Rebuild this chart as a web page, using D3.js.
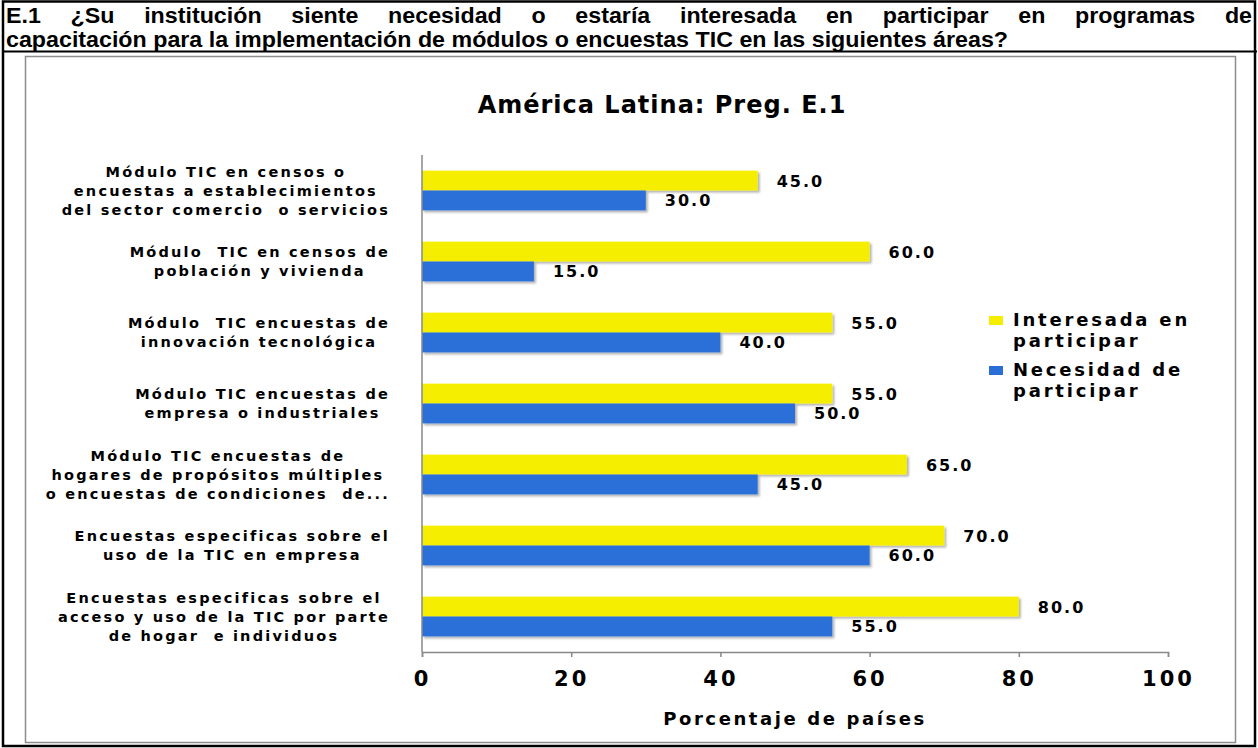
<!DOCTYPE html>
<html>
<head>
<meta charset="utf-8">
<script src="https://cdn.jsdelivr.net/npm/d3@7"></script>
<style>
  body { margin: 0; background: #fff; }
  svg { display: block; }
</style>
</head>
<body>
<svg id="chart" width="1258" height="748"></svg>
<script>
// data (top to bottom)
var categories = [
  ["Módulo TIC en censos o", "encuestas a establecimientos", "del sector comercio  o servicios"],
  ["Módulo  TIC en censos de", "población y vivienda"],
  ["Módulo  TIC encuestas de", "innovación tecnológica"],
  ["Módulo TIC encuestas de", "empresa o industriales"],
  ["Módulo TIC encuestas de", "hogares de propósitos múltiples", "o encuestas de condiciones  de..."],
  ["Encuestas especificas sobre el", "uso de la TIC en empresa"],
  ["Encuestas especificas sobre el", "acceso y uso de la TIC por parte", "de hogar  e individuos"]
];
var interesada = [45, 60, 55, 55, 65, 70, 80];
var necesidad = [30, 15, 40, 50, 45, 60, 55];
var seriesNames = [["Interesada en", "participar"], ["Necesidad de", "participar"]];
var seriesColors = ["#f5ee00", "#2a6fd8"];
var xTicks = [0, 20, 40, 60, 80, 100];

var headerLine1 = "E.1  ¿Su institución siente necesidad o estaría interesada en participar en programas de";
var headerLine2 = "capacitación para la implementación de módulos o encuestas TIC en las siguientes áreas?";

var svg = d3.select("#chart");

// outer frame + header
svg.append("rect").attr("x", 3).attr("y", 1.5).attr("width", 1252).attr("height", 744.5)
   .attr("fill", "none").attr("stroke", "#000").attr("stroke-width", 2.5);
svg.append("line").attr("x1", 3).attr("x2", 1257).attr("y1", 51.5).attr("y2", 51.5)
   .attr("stroke", "#000").attr("stroke-width", 2);

var headFont = "'Liberation Sans Narrow', 'Arial Narrow', sans-serif";
var headSize = "22.5px";

// second line: stretched a bit so it ends where the original does
var line2 = svg.append("text").attr("x", 6).attr("y", 46.5)
   .style("font-family", headFont).style("font-weight", "bold").style("font-size", headSize)
   .text(headerLine2);
var natural = line2.node().getComputedTextLength();
var k = 1002 / natural;
line2.attr("textLength", 1002).attr("lengthAdjust", "spacingAndGlyphs");

// first line justified across the width
var words = headerLine1.split(/\s+/);
var wnodes = words.map(function(w) {
  return svg.append("text").attr("y", 23).style("font-family", headFont)
    .style("font-weight", "bold").style("font-size", headSize).text(w);
});
var widths = wnodes.map(function(n) { return n.node().getComputedTextLength() * k; });
wnodes.forEach(function(n, i) {
  n.attr("textLength", widths[i]).attr("lengthAdjust", "spacingAndGlyphs");
});
var gap = (1252 - 6 - d3.sum(widths)) / (words.length - 1);
var cx = 6;
wnodes.forEach(function(n, i) { n.attr("x", cx); cx += widths[i] + gap; });

// chart frame
svg.append("rect").attr("x", 25.5).attr("y", 56.5).attr("width", 1210).attr("height", 686)
   .attr("fill", "#fff").attr("stroke", "#8c8c8c").attr("stroke-width", 1.5);

var wide = "'DejaVu Sans', Verdana, sans-serif";

svg.append("text").attr("x", 662).attr("y", 113).attr("text-anchor", "middle")
   .style("font-family", wide).style("font-weight", "bold").style("font-size", "24px")
   .style("letter-spacing", "1px")
   .text("América Latina: Preg. E.1");

// plot area
var pLeft = 422, pRight = 1168, pTop = 155, pBottom = 652;
var x = d3.scaleLinear().domain([0, 100]).range([pLeft, pRight]);
var y = d3.scaleBand().domain(d3.range(categories.length)).range([pTop, pBottom])
  .paddingInner(0.44).paddingOuter(0.22);
var sub = d3.scaleBand().domain([0, 1]).range([0, y.bandwidth()]);

var defs = svg.append("defs");
var f = defs.append("filter").attr("id", "shadow").attr("x", "-5%").attr("y", "-20%")
  .attr("width", "110%").attr("height", "160%");
f.append("feDropShadow").attr("dx", 2).attr("dy", 2).attr("stdDeviation", 1.2)
 .attr("flood-color", "#000").attr("flood-opacity", 0.3);

var series = [interesada, necesidad];
series.forEach(function(vals, s) {
  svg.append("g").selectAll("rect").data(vals).join("rect")
    .attr("x", x(0))
    .attr("y", function(d, i) { return y(i) + sub(s); })
    .attr("width", function(d) { return x(d) - x(0); })
    .attr("height", sub.bandwidth())
    .attr("fill", seriesColors[s])
    .attr("filter", "url(#shadow)");
  svg.append("g").selectAll("text").data(vals).join("text")
    .attr("x", function(d) { return x(d) + 19; })
    .attr("y", function(d, i) { return y(i) + sub(s) + sub.bandwidth() / 2 + 6; })
    .style("font-family", wide).style("font-weight", "bold").style("font-size", "16px")
    .style("letter-spacing", "2px")
    .text(function(d) { return d.toFixed(1); });
});

// axes
var xAxis = svg.append("g").attr("transform", "translate(0," + pBottom + ")")
  .call(d3.axisBottom(x).tickValues(xTicks).tickSize(5).tickPadding(14));
xAxis.select(".domain").attr("stroke", "#888").attr("stroke-width", 1.5);
xAxis.selectAll(".tick line").attr("stroke", "#888").attr("stroke-width", 1.5);
xAxis.selectAll(".tick text").attr("fill", "#000")
  .style("font-family", wide).style("font-weight", "bold")
  .style("font-size", "21px").style("letter-spacing", "3px");

svg.append("line").attr("x1", pLeft).attr("x2", pLeft).attr("y1", pTop).attr("y2", pBottom)
   .attr("stroke", "#888").attr("stroke-width", 1.5);

svg.append("text").attr("x", (pLeft + pRight) / 2).attr("y", 725).attr("text-anchor", "middle")
   .style("font-family", wide).style("font-weight", "bold")
   .style("font-size", "18px").style("letter-spacing", "2.6px")
   .text("Porcentaje de países");

// category labels: block right-aligned, lines centred in block
categories.forEach(function(lines, i) {
  var g = svg.append("g");
  var cyc = y(i) + y.bandwidth() / 2;
  var lh = 19;
  var tnodes = lines.map(function(l, k) {
    return g.append("text").attr("y", cyc + (k - (lines.length - 1) / 2) * lh + 5)
      .attr("text-anchor", "middle")
      .style("font-family", wide).style("font-weight", "bold").style("font-size", "14.5px")
      .style("letter-spacing", "2.2px").style("white-space", "pre")
      .text(l);
  });
  var maxw = d3.max(tnodes, function(n) { return n.node().getComputedTextLength(); });
  tnodes.forEach(function(n) { n.attr("x", 390 - maxw / 2); });
});

// legend
var leg = svg.append("g");
seriesNames.forEach(function(lines, s) {
  var ly = 316 + s * 50;
  leg.append("rect").attr("x", 989).attr("y", ly).attr("width", 14).attr("height", 9)
    .attr("fill", seriesColors[s]);
  lines.forEach(function(l, k) {
    leg.append("text").attr("x", 1013).attr("y", ly + 10 + k * 21)
      .style("font-family", wide).style("font-weight", "bold").style("font-size", "18px")
      .style("letter-spacing", "2.8px").text(l);
  });
});
</script>
</body>
</html>
